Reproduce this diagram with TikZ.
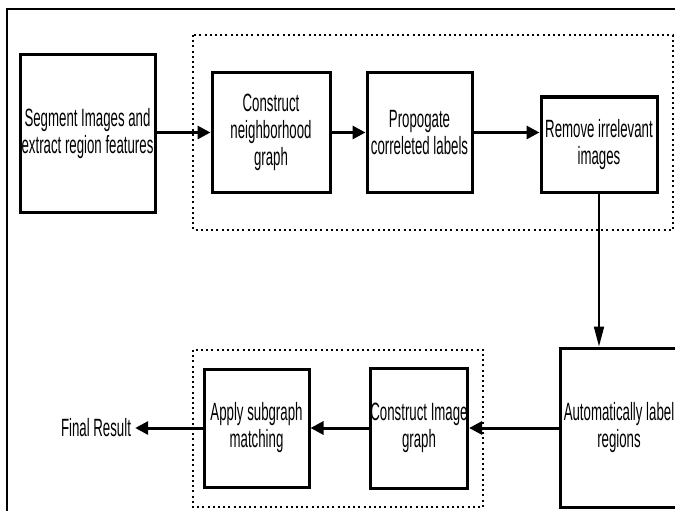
\documentclass[tikz,border=0pt]{standalone}
\usepackage{fontspec}
\setmainfont[FakeStretch=0.53]{Liberation Sans}
\usepackage{tikz}
\usetikzlibrary{arrows.meta}
\tikzstyle{block}=[
	rectangle,
	draw=black,
	line width=3pt,
	align=center,
	inner sep=0pt,
	font=\fontsize{25}{27}\selectfont
]
\tikzstyle{flow}=[
	-{Triangle[length=13pt,width=13pt]},
	line width=3pt,
	draw=black
]
\tikzstyle{group}=[
	draw=black,
	line width=2pt,
	dash pattern=on 2pt off 3.2pt
]
\begin{document}
\begin{tikzpicture}[x=1pt, y=-1pt]
\useasboundingbox (0,0) rectangle (675,511);
\draw[line width=1.8pt] (7,515) -- (7,9) -- (680,9);

% the two groups
\draw[group] (193,35) rectangle (673,230);
\draw[group] (193,350) rectangle (483,507);

\node[block, minimum width=135pt, minimum height=157pt] at (87.5,133.5) (seg) {Segment Images and\\extract region features};
\node[block, minimum width=118pt, minimum height=119pt] at (271,132.5) (nbr) {Construct\\neighborhood\\graph};
\node[block, minimum width=105pt, minimum height=119pt] at (419.5,132.5) (prop) {Propogate\\correleted labels};
\node[block, minimum width=116pt, minimum height=95pt] at (599,144.5) (remove) {Remove irrelevant\\images};
\node[block, minimum width=118pt, minimum height=159pt] at (619,427.5) (auto) {Automatically label\\regions};
\node[block, minimum width=96pt, minimum height=120pt] at (419,428) (cimg) {Construct Image\\graph};
\node[block, minimum width=105pt, minimum height=118pt] at (256.5,428) (apply) {Apply subgraph\\matching};
\node[font=\fontsize{25}{27}\selectfont, inner sep=0pt] at (96,428) (final) {Final Result};

\draw[flow] (seg.east |- nbr) -- (nbr);
\draw[flow] (nbr) -- (prop);
\draw[flow] (prop.east) -- (prop.east -| remove.west);
\draw[flow, line width=2pt, -{Triangle[length=20pt,width=10pt]}] (remove.south) -- (remove.south |- auto.north);
\draw[flow] (auto.west |- cimg) -- (cimg);
\draw[flow] (cimg) -- (apply);
\draw[flow] (apply) -- ([xshift=4pt]final.east);
\end{tikzpicture}
\end{document}
